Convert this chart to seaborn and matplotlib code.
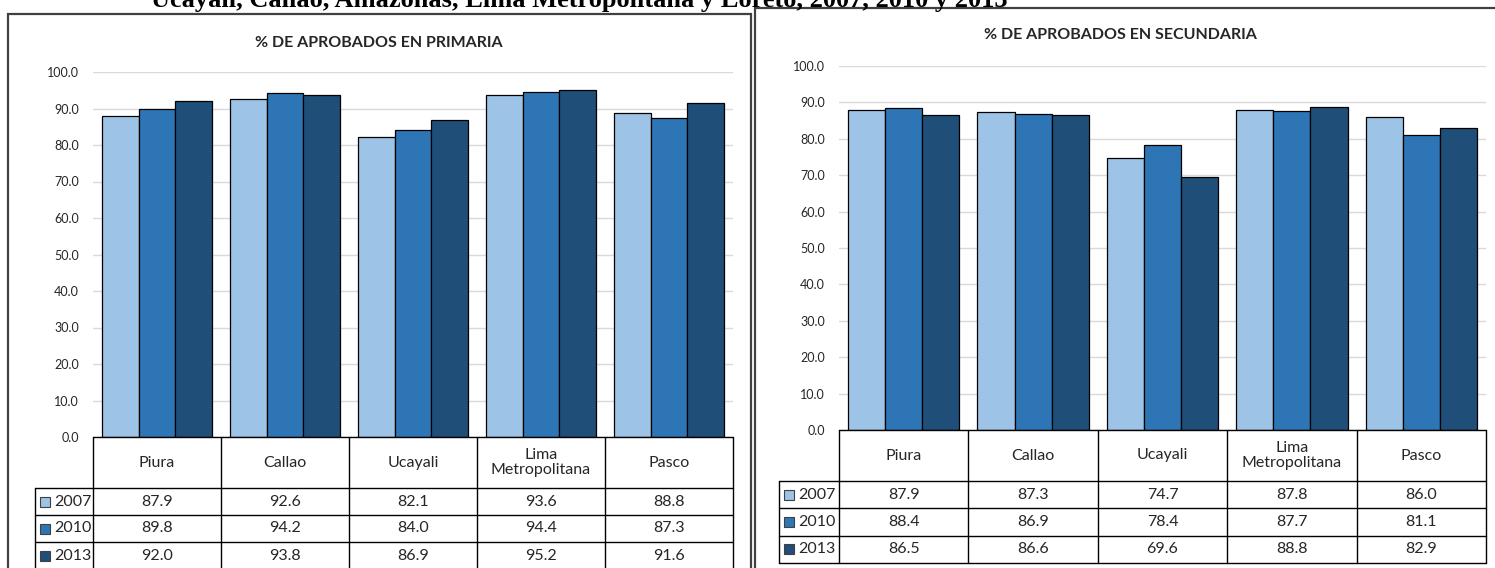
import matplotlib
matplotlib.use("Agg")
import matplotlib.pyplot as plt
from matplotlib.patches import Rectangle
import pandas as pd
import seaborn as sns

# --- data -------------------------------------------------------------
regions = ["Piura", "Callao", "Ucayali", "Lima\nMetropolitana", "Pasco"]
years = ["2007", "2010", "2013"]
primaria_2007 = [87.9, 92.6, 82.1, 93.6, 88.8]
primaria_2010 = [89.8, 94.2, 84.0, 94.4, 87.3]
primaria_2013 = [92.0, 93.8, 86.9, 95.2, 91.6]
secundaria_2007 = [87.9, 87.3, 74.7, 87.8, 86.0]
secundaria_2010 = [88.4, 86.9, 78.4, 87.7, 81.1]
secundaria_2013 = [86.5, 86.6, 69.6, 88.8, 82.9]
y_ticks = [0, 10, 20, 30, 40, 50, 60, 70, 80, 90, 100]
year_colors = ["#9DC3E6", "#2E75B6", "#1F4E79"]
suptitle = "Ucayali, Callao, Amazonas, Lima Metropolitana y Loreto, 2007, 2010 y 2013"

W, H = 1495, 568
sns.set_theme(style="white")
plt.rcParams["font.family"] = ["Lato", "DejaVu Sans"]

fig = plt.figure(figsize=(W / 100, H / 100), dpi=100)


def px_box(x0, y0, x1, y1):
    """Pixel box (top-left origin) -> figure fraction [l, b, w, h]."""
    return [x0 / W, 1 - y1 / H, (x1 - x0) / W, (y1 - y0) / H]


def long_frame(series):
    rows = []
    for yr, vals in zip(years, series):
        for reg, v in zip(regions, vals):
            rows.append({"region": reg, "year": yr, "value": v})
    return pd.DataFrame(rows)


def panel(frame_box, title, title_xy, plot_box, leg_left, header_h, row_bottom, series):
    fx0, fy0, fx1, fy1 = frame_box
    fig.patches.append(Rectangle((fx0 / W, 1 - fy1 / H), (fx1 - fx0) / W, (fy1 - fy0) / H,
                                 transform=fig.transFigure, fill=False,
                                 edgecolor="#404040", linewidth=1.6))
    fig.text(title_xy[0] / W, 1 - title_xy[1] / H, title, ha="center", va="center",
             fontsize=11.5, fontweight="bold", color="#262626")

    px0, py0, px1, py1 = plot_box
    ax = fig.add_axes(px_box(px0, py0, px1, py1))
    df = long_frame(series)
    sns.barplot(data=df, x="region", y="value", hue="year", order=regions,
                hue_order=years, palette=year_colors, saturation=1, width=0.86, gap=0,
                edgecolor="black", linewidth=0.9, legend=False, ax=ax,
                errorbar=None, zorder=3)
    ax.set_xlim(-0.5, len(regions) - 0.5)
    ax.set_ylim(0, 100)
    ax.set_yticks(y_ticks)
    ax.set_yticklabels([f"{t:.1f}" for t in y_ticks], fontsize=9, color="#262626")
    ax.tick_params(axis="y", length=0, pad=10)
    ax.set_xticks([])
    ax.set_xlabel("")
    ax.set_ylabel("")
    for s in ax.spines.values():
        s.set_visible(False)
    ax.yaxis.grid(True, color="#D9D9D9", linewidth=1)
    ax.set_axisbelow(True)
    ax.patch.set_alpha(0)

    # data table beneath the bars
    cat_w = (px1 - px0) / len(regions)
    leg_units = (px0 - leg_left) / cat_w
    row_h = (row_bottom - py1 - header_h) / len(years)
    total_h = row_bottom - py1
    tax = fig.add_axes(px_box(leg_left, py1, px1, row_bottom + 1))
    tax.set_xlim(-0.5 - leg_units, len(regions) - 0.5)
    tax.set_ylim(total_h + 1, 0)
    tax.axis("off")
    lw, lc = 1.0, "black"
    x_left, x_start, x_end = -0.5 - leg_units, -0.5, len(regions) - 0.5
    # horizontal rules
    tax.plot([x_start, x_end], [0, 0], color=lc, lw=lw, clip_on=False)
    for r in range(len(years) + 1):
        y = header_h + r * row_h
        tax.plot([x_left, x_end], [y, y], color=lc, lw=lw, clip_on=False)
    # vertical rules
    for i in range(len(regions) + 1):
        tax.plot([x_start + i, x_start + i], [0, total_h], color=lc, lw=lw, clip_on=False)
    tax.plot([x_left, x_left], [header_h, total_h], color=lc, lw=lw, clip_on=False)

    for i, reg in enumerate(regions):
        tax.text(i, header_h / 2, reg, ha="center", va="center", fontsize=11.5,
                 color="#262626", linespacing=1.15)
    for r, (yr, vals, col) in enumerate(zip(years, series, year_colors)):
        yc = header_h + (r + 0.5) * row_h
        for i, v in enumerate(vals):
            tax.text(i, yc, f"{v:.1f}", ha="center", va="center", fontsize=11.5,
                     color="#262626")
        sq = 10 / cat_w
        tax.add_patch(Rectangle((x_left + 5 / cat_w, yc - 5), sq, 10, facecolor=col,
                                edgecolor="#404040", linewidth=0.8, clip_on=False))
        tax.text(x_left + 19 / cat_w, yc, yr, ha="left", va="center", fontsize=11.5,
                 color="#262626")


panel((8, 14, 751, 580), "% DE APROBADOS EN PRIMARIA", (379, 43),
      (93, 72, 733, 437), 35, 51, 569,
      [primaria_2007, primaria_2010, primaria_2013])
panel((755, 8, 1505, 580), "% DE APROBADOS EN SECUNDARIA", (1120, 35),
      (839, 66, 1486, 430), 779, 51, 563,
      [secundaria_2007, secundaria_2010, secundaria_2013])

fig.text(151 / W, 1 - 7 / H, suptitle, ha="left", va="baseline", fontsize=19,
         fontweight="bold", family=["Liberation Serif", "DejaVu Serif"], color="black")

fig.savefig("out.png", dpi=100)
